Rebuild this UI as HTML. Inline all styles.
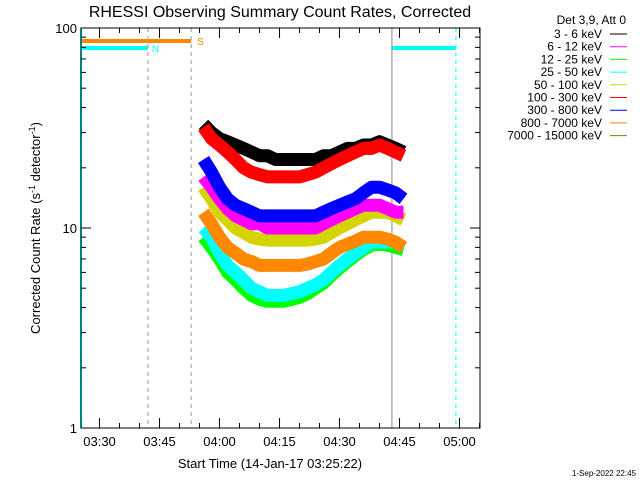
<!DOCTYPE html>
<html><head><meta charset="utf-8"><style>
body{margin:0;background:#fff}
svg{display:block;font-family:"Liberation Sans",sans-serif}
</style></head><body>
<svg id="c" width="640" height="480" viewBox="0 0 640 480">
<rect width="640" height="480" fill="#fff"/>
<text x="280" y="17" font-size="16" text-anchor="middle">RHESSI Observing Summary Count Rates, Corrected</text>
<text x="270" y="468" font-size="13" text-anchor="middle">Start Time (14-Jan-17 03:25:22)</text>
<text transform="translate(40,228) rotate(-90)" font-size="13" text-anchor="middle">Corrected Count Rate (s<tspan dy="-5" font-size="9">-1</tspan><tspan dy="5"> detector</tspan><tspan dy="-5" font-size="9">-1</tspan><tspan dy="5">)</tspan></text>
<text x="636" y="476" font-size="8" text-anchor="end">1-Sep-2022 22:45</text>
<g id="legend" font-size="12" text-anchor="end"></g>
<g id="flags"></g>
<g id="series"></g>
<g id="axes"></g>
</svg>
<script>
const times=[56,58,60,62,64,66,68,70,72,74,76,78,80,82,84,86,88,90,92,94,96,98,100,102,104,106];
const s3_6=[33,30,28,27,26,25,24,23,23,22,22,22,22,22,22,23,23,24,25,25,26,26,27,26,25,24];
const s6_12=[18,16,14,12.5,11.5,11,10.5,10.5,10,10,10,10,10,10,10,10.5,11,11.5,12,12.5,13,13,13,12.5,12,12];
const s12_25=[9,8,7,6,5.5,5,4.6,4.4,4.3,4.3,4.3,4.4,4.5,4.7,5,5.3,5.8,6.3,6.8,7.3,7.8,8.2,8.3,8.2,8,7.8];
const s25_50=[10,9,7.5,6.5,6,5.5,5,4.8,4.6,4.6,4.6,4.7,4.8,5,5.2,5.5,6,6.5,7,7.5,8,8.5,8.5,8.5,8.5,8];
const s50_100=[16,14,12,11,10,9.5,9,8.8,8.7,8.7,8.7,8.7,8.7,8.7,8.8,9,9.5,10,10.5,11,11.5,12,12,12,11.5,11];
const s100_300=[32,28,26,24,22,20,19,18.5,18,18,18,18,18,18.5,19,20,21,22,23,24,25,25,26,25,24,23];
const s300_800=[22,19,16,14,13,12.5,12,11.5,11.5,11.5,11.5,11.5,11.5,11.5,11.5,12,12.5,13,13.5,14,15,16,16,15.5,15,14];
const s800_7000=[12,10.5,9,8,7.5,7,6.8,6.5,6.5,6.5,6.5,6.5,6.5,6.6,6.8,7,7.5,8,8.3,8.6,9,9,9,8.8,8.5,8];
const legendLabels=["3 - 6 keV","6 - 12 keV","12 - 25 keV","25 - 50 keV","50 - 100 keV","100 - 300 keV","300 - 800 keV","800 - 7000 keV","7000 - 15000 keV"];
const legendColors=["#000","#f0f","#0f0","#0ff","#d4d400","#f00","#00f","#f80","#808000"];
const xTickMin=[30,45,60,75,90,105,120];
const xTickLabels=["03:30","03:45","04:00","04:15","04:30","04:45","05:00"];
const yTicks=[1,10,100];
const NS="http://www.w3.org/2000/svg";
const L=81,R=480,T=28,B=428,t0=25.367;
const X=t=>L+(t-t0)*4;
const Y=v=>B-Math.log10(v)*200;
function mk(tag,attrs,parent){const e=document.createElementNS(NS,tag);for(const k in attrs)e.setAttribute(k,attrs[k]);parent.appendChild(e);return e;}
const axes=document.getElementById('axes'),ser=document.getElementById('series'),fl=document.getElementById('flags'),lg=document.getElementById('legend');
const tN=42.1,tS=52.9,tE=103.1,tN2=119.1;
let e;
e=mk('line',{x1:L,y1:41,x2:X(tS),y2:41,stroke:'#f80','stroke-width':4},fl);

e=mk('line',{x1:L,y1:48,x2:X(tN),y2:48,stroke:'#0ff','stroke-width':4},fl);

e=mk('line',{x1:X(tE),y1:48,x2:X(tN2),y2:48,stroke:'#0ff','stroke-width':4},fl);

e=mk('text',{x:X(tN)+4,y:52,fill:'#0ff','font-size':10},fl);e.textContent='N';

e=mk('text',{x:X(tS)+6,y:45,fill:'#f80','font-size':10},fl);e.textContent='S';

[[tN,'#999','4,4'],[tS,'#999','4,4'],[tE,'#888',''],[tN2,'#0ff','4,4']].forEach(([t,c,d])=>{
 const ln=mk('line',{x1:X(t),y1:T,x2:X(t),y2:B,stroke:c,'stroke-width':1,'stroke-dasharray':d},fl);
 
 
});
e=mk('line',{x1:L,y1:T,x2:L,y2:B,stroke:'#0ff','stroke-width':2},fl);

const order=[[s12_25,'#0f0','series-12-25'],[s25_50,'#0ff','series-25-50'],[s800_7000,'#f80','series-800-7000'],[s50_100,'#d4d400','series-50-100'],[s6_12,'#f0f','series-6-12'],[s300_800,'#00f','series-300-800'],[s3_6,'#000','series-3-6'],[s100_300,'#f00','series-100-300']];
order.forEach(([arr,c,n])=>{
 const d=arr.map((v,i)=>(i?'L':'M')+X(times[i]).toFixed(1)+','+Y(v).toFixed(1)).join(' ');
 const p=mk('path',{d:d,fill:'none',stroke:c,'stroke-width':13,'stroke-linejoin':'round'},ser);
 
 
});
e=mk('rect',{x:L,y:T,width:R-L,height:B-T,fill:'none',stroke:'#000','stroke-width':1},axes);

for(let m=30;m<=125;m+=5){
 const x=X(m),len=(m%15==0)?10:5;
 mk('line',{x1:x,y1:B,x2:x,y2:B-len,stroke:'#000'},axes);
 mk('line',{x1:x,y1:T,x2:x,y2:T+len,stroke:'#000'},axes);
}
xTickMin.forEach((m,i)=>{
 const t=mk('text',{x:X(m),y:446,'font-size':13,'text-anchor':'middle'},axes);
 t.textContent=xTickLabels[i];
 
 
});
for(let dec=1;dec<100;dec*=10)for(let k=1;k<10;k++){
 const y=Y(dec*k),len=k==1?10:5;
 mk('line',{x1:L,y1:y,x2:L+len,y2:y,stroke:'#000'},axes);
 mk('line',{x1:R,y1:y,x2:R-len,y2:y,stroke:'#000'},axes);
}
yTicks.forEach(v=>{
 const t=mk('text',{x:L-4,y:Y(v)+5,'font-size':13,'text-anchor':'end'},axes);
 t.textContent=String(v);
 
 
});
e=mk('text',{x:626,y:24},lg);e.textContent='Det 3,9, Att 0';

legendLabels.forEach((lab,i)=>{
 const y=38+i*12.7;
 const t=mk('text',{x:602,y:y},lg);t.textContent=lab;
 
 
 const l=mk('line',{x1:610,y1:y-4,x2:627,y2:y-4,stroke:legendColors[i],'stroke-width':1},lg);
 
 
});
</script>
</body></html>
